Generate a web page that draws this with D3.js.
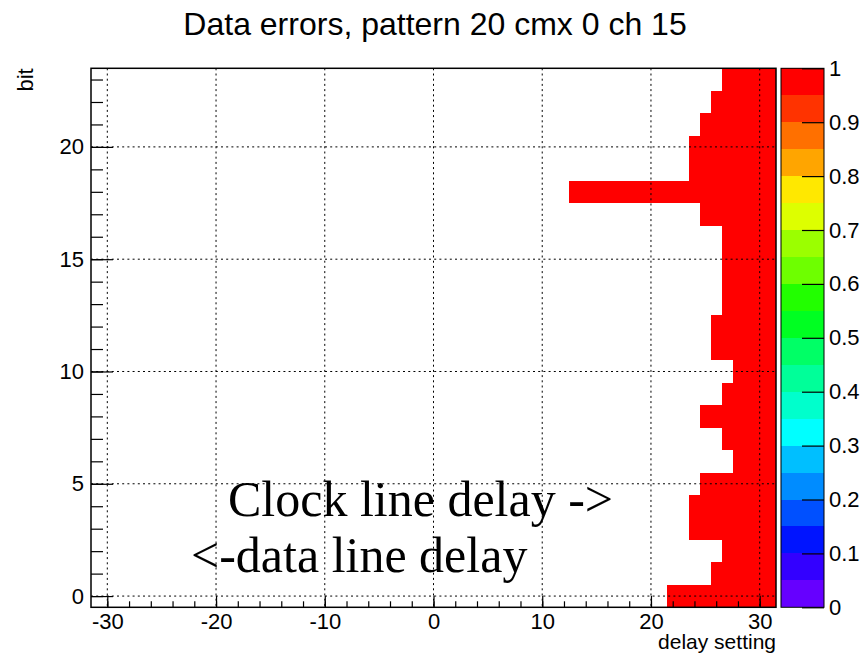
<!DOCTYPE html>
<html>
<head>
<meta charset="utf-8">
<script src="https://cdn.jsdelivr.net/npm/d3@7"></script>
<style>
  body { margin: 0; background: #fff; }
  svg { display: block; }
  .axis text { font-family: "Liberation Sans", Arial, sans-serif; font-size: 22px; fill: #000; }
  .axis line { stroke: #000; stroke-width: 1.2; }
</style>
</head>
<body>
<div id="chart"></div>
<script>
// bits on the y axis
var bits = [0, 1, 2, 3, 4, 5, 6, 7, 8, 9, 10, 11, 12, 13, 14, 15, 16, 17, 18, 19, 20, 21, 22, 23];
// first and last delay setting with errors, per bit
var errFrom = [22, 26, 27, 24, 24, 25, 28, 27, 25, 27, 28, 26, 26, 27, 27, 27, 27, 25, 13, 24, 24, 25, 26, 27];
var errTo   = [31, 31, 31, 31, 31, 31, 31, 31, 31, 31, 31, 31, 31, 31, 31, 31, 31, 31, 31, 31, 31, 31, 31, 31];
var errRate = [1, 1, 1, 1, 1, 1, 1, 1, 1, 1, 1, 1, 1, 1, 1, 1, 1, 1, 1, 1, 1, 1, 1, 1];

var xTicks = [-30, -20, -10, 0, 10, 20, 30];
var xMinor = [-30, -28, -26, -24, -22, -20, -18, -16, -14, -12, -10, -8, -6, -4, -2, 0,
              2, 4, 6, 8, 10, 12, 14, 16, 18, 20, 22, 24, 26, 28, 30];
var yTicks = [0, 5, 10, 15, 20];
var zTicks = [0, 0.1, 0.2, 0.3, 0.4, 0.5, 0.6, 0.7, 0.8, 0.9, 1];

// 20 contour colours, bottom (0) to top (1)
var palette = ["#6600ff", "#3300ff", "#0014ff", "#0050ff", "#008cff", "#00bfff", "#00ffff",
               "#00ffcc", "#00ff99", "#00ff66", "#00ff22", "#22ff00", "#6eff00", "#9bff00",
               "#ddff00", "#ffe800", "#ffa500", "#ff7000", "#ff3300", "#ff0000"];

var svgWidth = 864;
var svgHeight = 655;
var frame = { left: 91, right: 776, top: 68.3, bottom: 607.3 };
var pal = { left: 781, right: 824 };

var svg = d3.select("#chart").append("svg")
  .attr("width", svgWidth)
  .attr("height", svgHeight);

var x = d3.scaleLinear().domain([-31.5, 31.5]).range([frame.left, frame.right]);
var y = d3.scaleLinear().domain([-0.5, 23.5]).range([frame.bottom, frame.top]);
var z = d3.scaleLinear().domain([0, 1]).range([frame.bottom, frame.top]);
var color = d3.scaleQuantize().domain([0, 1]).range(palette);

// cells
var cells = [];
bits.forEach(function(b, i) {
  for (var d = errFrom[i]; d <= errTo[i]; d++) {
    cells.push({ bit: b, delay: d, value: errRate[i] });
  }
});

svg.append("g").selectAll("rect")
  .data(cells)
  .enter()
  .append("rect")
  .attr("x", d => x(d.delay - 0.5))
  .attr("y", d => y(d.bit + 0.5))
  .attr("width", d => x(d.delay + 0.5) - x(d.delay - 0.5))
  .attr("height", d => y(d.bit - 0.5) - y(d.bit + 0.5))
  .attr("fill", d => color(d.value))
  .attr("shape-rendering", "crispEdges");

// grid (drawn on top of the cells)
var grid = svg.append("g")
  .attr("stroke", "#000")
  .attr("stroke-width", 1)
  .attr("stroke-dasharray", "2,3.2");
grid.selectAll(".gx")
  .data(xTicks)
  .enter()
  .append("line")
  .attr("x1", d => x(d)).attr("x2", d => x(d))
  .attr("y1", frame.top).attr("y2", frame.bottom);
grid.selectAll(".gy")
  .data(yTicks)
  .enter()
  .append("line")
  .attr("y1", d => y(d)).attr("y2", d => y(d))
  .attr("x1", frame.left).attr("x2", frame.right);

// axes
var fmt = d => String(d);

svg.append("g")
  .attr("class", "axis")
  .attr("transform", `translate(0, ${frame.bottom})`)
  .call(d3.axisBottom(x).tickValues(xMinor).tickSize(-6).tickFormat(""))
  .call(g => g.select(".domain").remove());

svg.append("g")
  .attr("class", "axis")
  .attr("transform", `translate(0, ${frame.bottom})`)
  .call(d3.axisBottom(x).tickValues(xTicks).tickSize(-11.5).tickPadding(6).tickFormat(fmt))
  .call(g => g.select(".domain").remove());

svg.append("g")
  .attr("class", "axis")
  .attr("transform", `translate(${frame.left}, 0)`)
  .call(d3.axisLeft(y).tickValues(bits).tickSize(-12).tickFormat(""))
  .call(g => g.select(".domain").remove());

svg.append("g")
  .attr("class", "axis")
  .attr("transform", `translate(${frame.left}, 0)`)
  .call(d3.axisLeft(y).tickValues(yTicks).tickSize(-22).tickPadding(7).tickFormat(fmt))
  .call(g => g.select(".domain").remove());

// frame
svg.append("rect")
  .attr("x", frame.left)
  .attr("y", frame.top)
  .attr("width", frame.right - frame.left)
  .attr("height", frame.bottom - frame.top)
  .attr("fill", "none")
  .attr("stroke", "#000")
  .attr("stroke-width", 1.5);

// palette
svg.append("g").selectAll("rect")
  .data(palette)
  .enter()
  .append("rect")
  .attr("x", pal.left)
  .attr("width", pal.right - pal.left)
  .attr("y", (c, i) => z((i + 1) / palette.length))
  .attr("height", (c, i) => z(i / palette.length) - z((i + 1) / palette.length))
  .attr("fill", c => c)
  .attr("shape-rendering", "crispEdges");

svg.append("rect")
  .attr("x", pal.left)
  .attr("y", frame.top)
  .attr("width", pal.right - pal.left)
  .attr("height", frame.bottom - frame.top)
  .attr("fill", "none")
  .attr("stroke", "#000")
  .attr("stroke-width", 1);

svg.append("g")
  .attr("class", "axis")
  .attr("transform", `translate(${pal.right}, 0)`)
  .call(d3.axisRight(z).tickValues(zTicks).tickSize(-22).tickPadding(5).tickFormat(fmt))
  .call(g => g.select(".domain").remove());

// titles
svg.append("text")
  .attr("x", 435)
  .attr("y", 35)
  .attr("text-anchor", "middle")
  .attr("font-family", "Liberation Sans, Arial, sans-serif")
  .attr("font-size", "32px")
  .text("Data errors, pattern 20 cmx 0 ch 15");

svg.append("text")
  .attr("x", frame.right)
  .attr("y", 649)
  .attr("text-anchor", "end")
  .attr("font-family", "Liberation Sans, Arial, sans-serif")
  .attr("font-size", "21px")
  .text("delay setting");

svg.append("text")
  .attr("transform", `translate(33, ${frame.top}) rotate(-90)`)
  .attr("text-anchor", "end")
  .attr("font-family", "Liberation Sans, Arial, sans-serif")
  .attr("font-size", "22px")
  .text("bit");

// annotations
svg.append("text")
  .attr("x", 228)
  .attr("y", 516)
  .attr("font-family", "Liberation Serif, Times New Roman, serif")
  .attr("font-size", "50px")
  .text("Clock line delay ->");

svg.append("text")
  .attr("x", 191)
  .attr("y", 572)
  .attr("font-family", "Liberation Serif, Times New Roman, serif")
  .attr("font-size", "50px")
  .text("<-data line delay");
</script>
</body>
</html>
